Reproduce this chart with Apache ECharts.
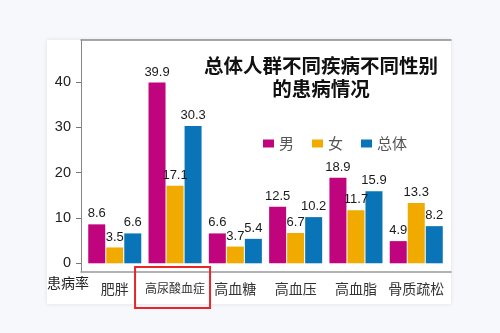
<!DOCTYPE html>
<html>
<head>
<meta charset="utf-8">
<script src="https://cdn.jsdelivr.net/npm/echarts@6/dist/echarts.min.js"></script>
<style>
html,body{margin:0;padding:0;background:#f7f8fc;}
#c{width:500px;height:333px;}
</style>
</head>
<body>
<div id="c"></div>
<script>
const categories = ['肥胖', '高尿酸血症', '高血糖', '高血压', '高血脂', '骨质疏松'];
const male = [8.6, 39.9, 6.6, 12.5, 18.9, 4.9];
const female = [3.5, 17.1, 3.7, 6.7, 11.7, 13.3];
const total = [6.6, 30.3, 5.4, 10.2, 15.9, 8.2];
const seriesNames = ['男', '女', '总体'];
const yTicks = [0, 10, 20, 30, 40];
const titleLines = ['总体人群不同疾病不同性别', '的患病情况'];
const yName = '患病率';
const highlighted = '高尿酸血症';

const colors = ['#c0047e', '#f0aa00', '#0a74b8'];
const cjk = '"Noto Sans CJK SC", sans-serif';
const num = '"Liberation Sans", Arial, sans-serif';
const yMin = -1.92, yMax = 49.3;

const chart = echarts.init(document.getElementById('c'), null, {renderer: 'canvas'});

function barSeries(name, data, color) {
  return {
    name: name, type: 'bar', data: data,
    xAxisIndex: 2, yAxisIndex: 1,
    barWidth: 17, barGap: '6%',
    itemStyle: {color: color},
    label: {show: true, position: 'top', distance: 4, fontSize: 13, fontFamily: num, color: '#1a1a1a'}
  };
}

const option = {
  animation: false,
  color: colors,
  grid: [
    {left: 81, top: 40, width: 370, height: 232},
    {left: 84.6, top: 40, width: 361.8, height: 232}
  ],
  xAxis: [
    {gridIndex: 0, type: 'value', min: 0, max: 1, position: 'bottom',
     axisLine: {show: true, onZero: false, lineStyle: {color: '#999', width: 1.5}},
     axisTick: {show: false}, axisLabel: {show: false}, splitLine: {show: false}},
    {gridIndex: 0, type: 'value', min: 0, max: 1, position: 'top',
     axisLine: {show: true, onZero: false, lineStyle: {color: '#8a8a8a', width: 1.5}},
     axisTick: {show: false}, axisLabel: {show: false}, splitLine: {show: false}},
    {gridIndex: 1, type: 'category', data: categories,
     axisLine: {show: false, onZero: false}, axisTick: {show: false},
     axisLabel: {interval: 0, hideOverlap: false, margin: 10, fontSize: 14, fontFamily: cjk, color: '#333',
       formatter: function (v) { return v === highlighted ? '{s|' + v + '}' : v; },
       rich: {s: {fontSize: 12, fontFamily: cjk, color: '#333'}}}}
  ],
  yAxis: [
    {gridIndex: 0, type: 'value', min: yMin, max: yMax,
     axisLine: {show: true, onZero: false, lineStyle: {color: '#888', width: 1}},
     axisTick: {show: true, length: 5, customValues: yTicks, lineStyle: {color: '#777'}},
     axisLabel: {margin: 10, fontSize: 14.5, fontFamily: num, color: '#222', customValues: yTicks},
     splitLine: {show: false}},
    {gridIndex: 1, type: 'value', min: yMin, max: yMax, show: false, splitLine: {show: false}}
  ],
  legend: {
    data: seriesNames, left: 258, top: 131,
    itemWidth: 11, itemHeight: 8, itemGap: 18, icon: 'rect',
    textStyle: {fontSize: 15, fontFamily: cjk, color: '#555'}
  },
  graphic: [
    {type: 'rect', z: -10, shape: {x: 47, y: 40, width: 404, height: 264},
     style: {fill: '#fff', shadowBlur: 4, shadowColor: 'rgba(0,0,0,0.10)'}},
    {type: 'text', z: 10, style: {text: titleLines.join('\n'), x: 321, y: 54, textAlign: 'center', textVerticalAlign: 'top',
      font: 'bold 19.5px ' + cjk, lineHeight: 23, fill: '#111'}},
    {type: 'text', z: 10, style: {text: yName, x: 47, y: 282.5, textAlign: 'left', textVerticalAlign: 'middle',
      font: '14px ' + cjk, fill: '#222'}}
  ],
  series: [
    barSeries(seriesNames[0], male, colors[0]),
    barSeries(seriesNames[1], female, colors[1]),
    barSeries(seriesNames[2], total, colors[2])
  ]
};
chart.setOption(option);

const cx = chart.convertToPixel({xAxisIndex: 2}, highlighted);
chart.setOption({
  graphic: option.graphic.concat([
    {type: 'rect', z: 20, shape: {x: cx - 40, y: 267, width: 75, height: 41},
     style: {fill: 'none', stroke: '#e8262a', lineWidth: 2}}
  ])
});
</script>
</body>
</html>
